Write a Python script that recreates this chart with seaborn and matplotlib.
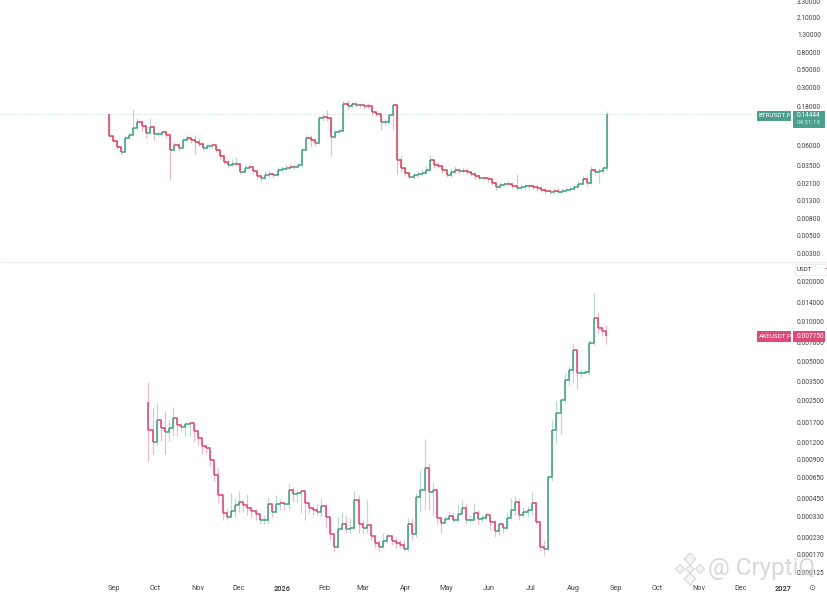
# Two stacked log-scale candlestick panels, TradingView look
import pandas as pd
import matplotlib.pyplot as plt
import matplotlib.dates as mdates
from matplotlib.patches import Rectangle, Polygon
from matplotlib.ticker import NullLocator
import seaborn as sns

sns.set_theme(style="white")
plt.rcParams["font.family"] = ["Roboto", "DejaVu Sans"]

# Candle spacing and start dates
candle_step_days = 3
btr_start = "2025-08-28"
ake_start = "2025-09-26"

# BTRUSDT.P
btr_first_open = 0.1445
btr_close = [
    .0782, .0681, .0577, .0503, .074, .0804, .0976, .1154, .1031, .085,
    .1003, .0827, .0835, .0874, .0804, .0531, .061, .0561, .07, .074,
    .07, .0663, .0627, .0561, .0593, .061, .0531, .0449, .0381, .0351,
    .036, .0365, .0289, .0323, .0332, .0297, .0259, .0245, .0266, .0273,
    .0266, .0305, .0314, .0323, .0332, .0328, .0351, .0531, .074, .07,
    .0645, .1291, .1327, .13, .0761, .0874, .0898, .19, .18, .19,
    .185, .185, .18, .178, .1524, .1442, .1154, .117, .1403, .185,
    .0403, .0323, .0281, .0252, .0266, .0273, .0281, .0305, .0403, .0351,
    .0345, .0305, .0266, .0289, .0305, .0297, .0297, .0289, .0273, .0259,
    .0245, .0245, .0238, .0213, .019, .0201, .0207, .0207, .0196, .0185,
    .019, .0196, .0196, .019, .0185, .0175, .0171, .0166, .0171, .0168,
    .0171, .0175, .018, .019, .0207, .0238, .0213, .0305, .0289, .0297,
    .0323, .14444,
]
btr_high = [
    .1445, .079, .068, .058, .078, .088, .166, .128, .121, .104,
    .128, .104, .09, .093, .089, .082, .066, .064, .074, .08,
    .077, .0804, .075, .066, .062, .064, .061, .053, .046, .04,
    .042, .0435, .037, .035, .036, .034, .03, .027, .0295, .03,
    .029, .033, .034, .035, .037, .036, .037, .056, .08, .08,
    .072, .135, .145, .16, .133, .092, .094, .205, .215, .2,
    .2, .195, .19, .195, .18, .155, .145, .125, .145, .19,
    .19, .045, .033, .029, .028, .03, .031, .034, .046, .042,
    .038, .036, .03, .032, .034, .032, .033, .032, .03, .029,
    .027, .026, .0255, .024, .022, .022, .022, .0225, .0215, .0273,
    .0205, .0205, .0208, .0205, .02, .019, .0185, .018, .0185, .0185,
    .0185, .019, .0195, .0205, .0225, .026, .025, .034, .032, .032,
    .033, .155,
]
btr_low = [
    .0755, .066, .055, .048, .05, .072, .078, .095, .09, .075,
    .082, .07, .076, .078, .075, .0232, .05, .052, .055, .066,
    .064, .048, .06, .053, .054, .056, .05, .042, .036, .033,
    .034, .034, .027, .028, .031, .028, .024, .0225, .0235, .0255,
    .0255, .026, .029, .03, .031, .031, .032, .034, .052, .058,
    .06, .062, .12, .118, .0456, .074, .086, .087, .165, .17,
    .175, .172, .168, .165, .14, .135, .092, .105, .11, .092,
    .0275, .029, .026, .024, .0245, .0255, .026, .0275, .03, .032,
    .032, .028, .025, .025, .028, .028, .028, .027, .026, .024,
    .023, .023, .022, .02, .0175, .0185, .0195, .0195, .0185, .0175,
    .0178, .0175, .0185, .018, .0172, .0165, .016, .0155, .0158, .016,
    .016, .0165, .017, .0175, .019, .021, .0195, .0205, .027, .0215,
    .0285, .03,
]

# AKEUSDT.P
ake_first_open = .00245
ake_close = [
    .00151, .00122, .00179, .00155, .00145, .00155, .00186, .00164, .00158, .00167,
    .0017, .00148, .00131, .00114, .0011, .00089, .000687, .00048, .000354, .00033,
    .000366, .000407, .000429, .000407, .000386, .000366, .000348, .000313, .000313, .000414,
    .00036, .000414, .000421, .000414, .00053, .00049, .0005, .00052, .000421, .000386,
    .000372, .00036, .0004, .00033, .000242, .000195, .000264, .000293, .000268, .000273,
    .000444, .000288, .000273, .000283, .000234, .00021, .000195, .000217, .000234, .000217,
    .00021, .000202, .000188, .000288, .000242, .000468, .00053, .000776, .00051, .00053,
    .000325, .000298, .000319, .000336, .000313, .000348, .000386, .000313, .000313, .000354,
    .000319, .000325, .000342, .000303, .000255, .000288, .000273, .000325, .000372, .000429,
    .000342, .00036, .000372, .000421, .000303, .000195, .000188, .000663, .00151, .00203,
    .00255, .00361, .0043, .0061, .00408, .00408, .00415, .00689, .01067, .00895,
    .0085, .00775,
]
ake_high = [
    .00345, .00221, .00242, .00175, .0021, .0018, .00225, .00185, .00165, .0017,
    .0017, .00168, .00145, .00125, .00118, .00105, .00085, .00077, .00046, .00038,
    .0005, .00046, .00052, .00043, .00049, .0004, .00038, .00033, .00034, .00046,
    .00041, .00048, .00045, .00043, .0006, .00055, .00052, .00051, .00051, .00041,
    .00039, .00042, .00045, .00041, .00033, .00021, .00033, .00036, .00034, .00032,
    .00052, .00048, .00031, .00044, .00029, .00024, .00022, .00025, .00025, .00024,
    .00023, .00022, .00022, .00032, .00032, .0005, .00075, .00128, .00085, .0006,
    .00052, .00032, .00033, .00036, .00035, .00041, .00044, .00042, .00034, .00042,
    .00037, .00034, .00036, .00032, .00031, .00029, .00028, .00036, .00046, .00047,
    .00045, .00039, .0004, .00051, .00043, .0003, .00022, .00068, .0018, .0025,
    .0026, .0041, .0046, .0069, .0061, .0044, .0044, .0072, .0165, .0118,
    .0092, .0095,
]
ake_low = [
    .00088, .00099, .00115, .00125, .00098, .00125, .00135, .00135, .00145, .00135,
    .00135, .00125, .00115, .00098, .00098, .0008, .00062, .00042, .00031, .00031,
    .00033, .00033, .00036, .00036, .00034, .00033, .00031, .00029, .00029, .00029,
    .00033, .00035, .00037, .00037, .00037, .00043, .00043, .00035, .00031, .00035,
    .00034, .00034, .00033, .00027, .00022, .00018, .00019, .00026, .00025, .00025,
    .00026, .00025, .00025, .00025, .00022, .00019, .00018, .00019, .00021, .0002,
    .00019, .00019, .00018, .00018, .00022, .00023, .00036, .00037, .00037, .00034,
    .00029, .00025, .0003, .00031, .0003, .0003, .00035, .00029, .0003, .00031,
    .00029, .0003, .00031, .00026, .00023, .00024, .00025, .00026, .00033, .00034,
    .00031, .00033, .00033, .00034, .00029, .00018, .00017, .00018, .00062, .0012,
    .0014, .0024, .0033, .0034, .0031, .0038, .004, .0039, .0066, .0082,
    .0078, .0068,
]

# Axis labels
month_dates = [
    "2025-09-01", "2025-10-01", "2025-11-01", "2025-12-01", "2026-01-01",
    "2026-02-01", "2026-03-01", "2026-04-01", "2026-05-01", "2026-06-01",
    "2026-07-01", "2026-08-01", "2026-09-01", "2026-10-01", "2026-11-01",
    "2026-12-01", "2027-01-01",
]
month_labels = ["Sep", "Oct", "Nov", "Dec", "2026", "Feb", "Mar", "Apr", "May",
                "Jun", "Jul", "Aug", "Sep", "Oct", "Nov", "Dec", "2027"]
btr_ticks = [3.3, 2.1, 1.3, 0.8, 0.5, 0.3, 0.18, 0.06, 0.035, 0.021,
             0.013, 0.008, 0.005, 0.003]
ake_ticks = [0.02, 0.014, 0.01, 0.007, 0.005, 0.0035, 0.0025, 0.0017, 0.0012,
             0.0009, 0.00065, 0.00045, 0.00033, 0.00023, 0.00017, 0.000125]

GREEN = "#4b9f8b"
BTR_RED = "#d9485c"
AKE_RED = "#dd4a78"
W, H = 828, 594


def candle_frames(start, first_open, close, high, low):
    df = pd.DataFrame({"close": close, "high": high, "low": low})
    df["open"] = df["close"].shift(1).fillna(first_open)
    df["date"] = pd.date_range(start, periods=len(df), freq=f"{candle_step_days}D")
    df["side"] = ["up" if c >= o else "down" for c, o in zip(df["close"], df["open"])]
    df["candle"] = df.index
    wicks = df.melt(id_vars=["date", "side", "candle"], value_vars=["high", "low"], value_name="price")
    # bodies join up at this zoom, so each one runs on from the previous close
    joins = df[["date", "side", "candle", "open"]].rename(columns={"open": "price"})
    joins["date"] = joins["date"] - pd.Timedelta(days=candle_step_days)
    joins = joins[joins["candle"] > 0]
    opens = df[["date", "side", "candle", "open"]].rename(columns={"open": "price"})
    closes = df[["date", "side", "candle", "close"]].rename(columns={"close": "price"})
    bodies = pd.concat([joins, opens, closes]).sort_values("candle", kind="stable")
    return wicks, bodies


def draw_candles(ax, wicks, bodies, red):
    palette = {"up": GREEN, "down": red}
    for data, lw, alpha in [(wicks, 0.9, 0.38), (bodies, 1.15, 1.0)]:
        sns.lineplot(data=data, x="date", y="price", units="candle", hue="side",
                     estimator=None, sort=False, palette=palette, legend=False,
                     linewidth=lw, alpha=alpha, solid_capstyle="butt", ax=ax)
    ax.set_xlabel("")
    ax.set_ylabel("")


def setup_axis(ax, ylim, ticks, decimals):
    ax.set_yscale("log")
    ax.set_ylim(*ylim)
    ax.set_xlim(mdates.date2num(pd.Timestamp("2025-06-10")), mdates.date2num(pd.Timestamp("2027-01-06")))
    ax.yaxis.tick_right()
    ax.set_yticks(ticks)
    ax.set_yticklabels([f"{t:.{decimals}f}" for t in ticks])
    ax.yaxis.set_minor_locator(NullLocator())
    ax.tick_params(axis="y", length=0, pad=5, labelsize=4.7, labelcolor="#3f3f3f")
    for spine in ax.spines.values():
        spine.set_visible(False)


def add_box(x0, y0, x1, y1, color, fill=True):
    fig.add_artist(Rectangle((x0 / W, 1 - y1 / H), (x1 - x0) / W, (y1 - y0) / H, transform=fig.transFigure,
                             facecolor=color if fill else "white", edgecolor=color if not fill else "none",
                             linewidth=0.5, zorder=5))


def add_text(x, y, s, **kwargs):
    kwargs.setdefault("ha", "left")
    kwargs.setdefault("va", "center")
    kwargs.setdefault("zorder", 6)
    fig.text(x / W, 1 - y / H, s, **kwargs)


fig = plt.figure(figsize=(W / 100, H / 100), dpi=100)
ax_top = fig.add_axes([0, 1 - 261 / H, 790 / W, 261 / H])
ax_bot = fig.add_axes([0, 1 - 578 / H, 790 / W, 316 / H])
ax_bot.patch.set_alpha(0)
ax_top.patch.set_alpha(0)

draw_candles(ax_top, *candle_frames(btr_start, btr_first_open, btr_close, btr_high, btr_low), BTR_RED)
draw_candles(ax_bot, *candle_frames(ake_start, ake_first_open, ake_close, ake_high, ake_low), AKE_RED)

setup_axis(ax_top, (0.00245, 3.41), btr_ticks, 5)
setup_axis(ax_bot, (0.000113, 0.02837), ake_ticks, 6)

ax_top.set_xticks([])
ax_top.axhline(btr_close[-1], xmax=757 / 790, color=GREEN, lw=0.5, ls=":", alpha=0.5)

ax_bot.set_xticks(mdates.date2num(pd.to_datetime(month_dates)))
ax_bot.set_xticklabels(month_labels)
ax_bot.tick_params(axis="x", length=0, pad=5, labelsize=5.2, labelcolor="#444444")
for label in ax_bot.get_xticklabels():
    if label.get_text() in ("2026", "2027"):
        label.set_fontweight("bold")

# Pane separator
fig.add_artist(plt.Line2D([0, 1], [1 - 261.5 / H] * 2, color="#ececec", lw=0.7))

# Price tags
add_box(757, 111, 791, 120.5, GREEN)
add_box(793, 111, 825, 127.5, GREEN)
add_text(758.5, 115.8, "BTRUSDT.P", color="white", fontsize=4.6)
add_text(797, 115.5, "0.14444", color="white", fontsize=4.7)
add_text(797, 123, "04:51:18", color="#cfe6df", fontsize=4.5)

add_box(757, 331, 791, 341.5, AKE_RED)
add_box(793, 331, 825, 341.5, AKE_RED)
add_text(758.5, 336.3, "AKEUSDT.P", color="white", fontsize=4.6)
add_text(797, 336.3, "0.007750", color="white", fontsize=4.7)

# Currency selector
add_box(795, 264, 826, 275, "#f0e4e4", fill=False)
add_text(797, 269.5, "USDT", color="#3f3f3f", fontsize=4.5)
add_text(825, 269.5, "-", color="#555555", fontsize=5)

# Settings icon
add_text(812, 588, "\u2299", color="#555555", fontsize=6, ha="center")

# Watermark
add_text(708, 569, "@ CryptiQ", color="#d2d2d2", fontsize=17.5, alpha=0.85)
logo = [(690, 569, 4), (690, 559, 6), (690, 579, 6), (680, 569, 4.5), (700, 569, 4.5)]
for cx, cy, r in logo:
    points = [((cx + dx) / W, 1 - (cy + dy) / H) for dx, dy in [(0, -r), (r, 0), (0, r), (-r, 0)]]
    fig.add_artist(Polygon(points, closed=True, transform=fig.transFigure, facecolor="#f4f4f4",
                           edgecolor="#d8d8d8", linewidth=0.8, zorder=6))

fig.savefig("out.png", dpi=100)
